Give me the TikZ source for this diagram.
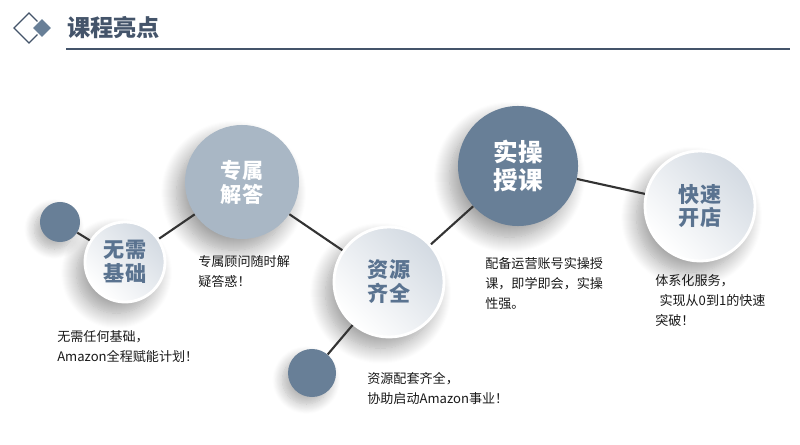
\documentclass[tikz,border=0pt]{standalone}
\usepackage{fontspec}
\setmainfont{Noto Sans CJK SC}
\usepackage{xcolor}
\usetikzlibrary{positioning,shadows.blur}
\definecolor{ktitle}{HTML}{44546A}
\definecolor{kdark}{HTML}{687F97}
\definecolor{klight}{HTML}{A9B7C5}
\definecolor{kword}{HTML}{5A7390}
\definecolor{kpale}{HTML}{D3DAE2}
\definecolor{kline}{HTML}{333333}

\begin{document}
\begin{tikzpicture}[x=0.025cm,y=-0.025cm,
  dot/.style={circle,fill=kdark,minimum size=#1,inner sep=0pt,
    blur shadow={shadow xshift=-4pt,shadow yshift=-5pt,shadow blur radius=7pt,shadow opacity=30,shadow blur steps=12}},
  ball/.style={circle,minimum size=#1,inner sep=0pt,align=center,font=\fontsize{15}{17}\selectfont\bfseries,
    blur shadow={shadow xshift=-6pt,shadow yshift=-8pt,shadow blur radius=11pt,shadow opacity=38,shadow blur steps=16}},
  pale/.style={ball=#1,draw=white,line width=2pt,left color=white,right color=kpale,shading angle=135,text=kword},
  full/.style={ball=#1,text=white},
  desc/.style={anchor=north west,align=left,inner sep=0pt,font=\fontsize{9.3}{14.2}\selectfont,text=black!90},
  link/.style={draw=kline,line width=1.5pt}]
  \useasboundingbox (0,0) rectangle (800,445);
  % header
  \draw[ktitle,line width=1pt] (14,28) -- (29,13) -- (44,28) -- (29,43) -- cycle;
  \fill[kdark,draw=white,line width=1pt] (32,28) -- (42,18) -- (52,28) -- (42,38) -- cycle;
  \node[anchor=west,inner sep=0pt,text=ktitle,font=\fontsize{16.5}{18}\selectfont\bfseries] (title) at (67,28) {课程亮点};
  \draw[ktitle,line width=1.2pt] (66,49) -- (790,49);
  % circles
  \node[dot=1cm] (s1) at (60,222) {};
  \node[dot=1.2cm] (s2) at (312,373) {};
  \node[pale=2cm] (wx) at (125,262) {无需\\基础};
  \node[full=2.85cm,fill=klight] (zs) at (242,182) {专属\\解答};
  \node[pale=2.75cm] (zy) at (389,282) {资源\\齐全};
  \node[full=3cm,fill=kdark,font=\fontsize{17.5}{20}\selectfont\bfseries] (sc) at (518,166) {实操\\授课};
  \node[pale=2.75cm] (ks) at (700,206) {快速\\开店};
  % links
  \draw[link] (s1) -- (wx);
  \draw[link] (wx) -- (zs);
  \draw[link] (zs) -- (zy);
  \draw[link] (zy) -- (s2);
  \draw[link] (zy) -- (sc);
  \draw[link] (sc) -- (ks);
  % texts
  \node[desc] (t1) at (57,330) {无需任何基础，\\Amazon全程赋能计划！};
  \node[desc] (t2) at (198,255) {专属顾问随时解\\疑答惑！};
  \node[desc] (t3) at (367,372) {资源配套齐全，\\协助启动Amazon事业！};
  \node[desc] (t4) at (485,257) {配备运营账号实操授\\课，即学即会，实操\\性强。};
  \node[desc] (t5) at (655,274) {体系化服务，\\\hspace*{3pt}实现从0到1的快速\\突破！};
\end{tikzpicture}
\end{document}
